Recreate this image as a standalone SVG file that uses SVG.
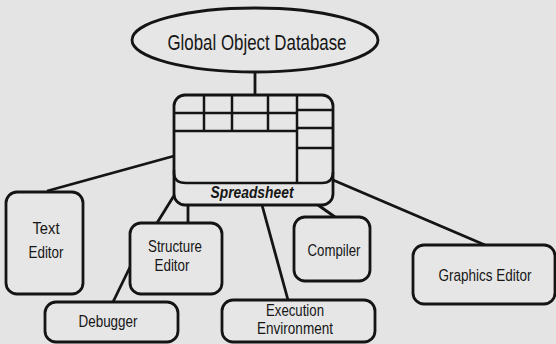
<svg xmlns="http://www.w3.org/2000/svg" width="556" height="344" viewBox="0 0 556 344">
<style>
.bx{fill:#e6e6e6;stroke:#141414;stroke-width:2.8}
.ln{fill:none;stroke:#141414;stroke-width:2.8}
.gl{fill:none;stroke:#141414;stroke-width:2.5}
.t{font-family:"Liberation Sans",Arial,sans-serif;font-size:17px;fill:#161616;text-anchor:middle}
.s{font-family:"Liberation Sans",Arial,sans-serif;font-size:16px;font-weight:bold;font-style:italic;fill:#161616;text-anchor:middle}
</style>
<rect width="556" height="344" fill="#e4e4e4"/>
<g id="connectors">
<line class="ln" x1="255" y1="72" x2="255" y2="95"/>
<line class="ln" x1="47" y1="191" x2="174" y2="156"/>
<line class="ln" x1="157" y1="223" x2="175" y2="194"/>
<line class="ln" x1="188" y1="205" x2="188" y2="223"/>
<line class="ln" x1="113" y1="302" x2="131" y2="265"/>
<line class="ln" x1="288" y1="300" x2="262" y2="205"/>
<line class="ln" x1="318" y1="205" x2="335" y2="217"/>
<line class="ln" x1="485" y1="245" x2="333" y2="180"/>
</g>
<g id="database">
<ellipse class="bx" cx="255" cy="40" rx="123" ry="32"/>
<text class="t" x="257" y="50" style="font-size:22px" textLength="179" lengthAdjust="spacingAndGlyphs">Global Object Database</text>
</g>
<g id="spreadsheet">
<rect class="bx" x="174" y="95" width="159" height="110" rx="11"/>
<path class="gl" d="M174,170 V173 Q174,183 186,183 H322 Q333,183 333,172"/>
<line class="gl" x1="174" y1="113" x2="297" y2="113"/>
<line class="gl" x1="174" y1="131" x2="297" y2="131"/>
<line class="gl" x1="204" y1="95" x2="204" y2="131"/>
<line class="gl" x1="232" y1="95" x2="232" y2="131"/>
<line class="gl" x1="268" y1="95" x2="268" y2="131"/>
<line class="gl" x1="297" y1="95" x2="297" y2="183"/>
<line class="gl" x1="297" y1="110" x2="333" y2="110"/>
<line class="gl" x1="297" y1="128" x2="333" y2="128"/>
<line class="gl" x1="297" y1="148" x2="333" y2="148"/>
<text class="s" x="252" y="198" textLength="83" lengthAdjust="spacingAndGlyphs">Spreadsheet</text>
</g>
<g id="text-editor">
<rect class="bx" x="6" y="192" width="77" height="102" rx="11"/>
<text class="t" x="46" y="234" textLength="27" lengthAdjust="spacingAndGlyphs">Text</text>
<text class="t" x="46" y="258" textLength="35" lengthAdjust="spacingAndGlyphs">Editor</text>
</g>
<g id="structure-editor">
<rect class="bx" x="130" y="223" width="92" height="71" rx="11"/>
<text class="t" x="175" y="252" textLength="54" lengthAdjust="spacingAndGlyphs">Structure</text>
<text class="t" x="172" y="271" textLength="35" lengthAdjust="spacingAndGlyphs">Editor</text>
</g>
<g id="debugger">
<rect class="bx" x="45" y="302" width="133" height="40" rx="11"/>
<text class="t" x="108" y="327" textLength="59" lengthAdjust="spacingAndGlyphs">Debugger</text>
</g>
<g id="execution-environment">
<rect class="bx" x="222" y="300" width="153" height="42" rx="11"/>
<text class="t" x="295" y="316" textLength="58" lengthAdjust="spacingAndGlyphs">Execution</text>
<text class="t" x="295" y="334" textLength="76" lengthAdjust="spacingAndGlyphs">Environment</text>
</g>
<g id="compiler">
<rect class="bx" x="294" y="217" width="76" height="64" rx="11"/>
<text class="t" x="334" y="256" textLength="53" lengthAdjust="spacingAndGlyphs">Compiler</text>
</g>
<g id="graphics-editor">
<rect class="bx" x="413" y="245" width="142" height="59" rx="11"/>
<text class="t" x="485" y="281" textLength="93" lengthAdjust="spacingAndGlyphs">Graphics Editor</text>
</g>
</svg>
